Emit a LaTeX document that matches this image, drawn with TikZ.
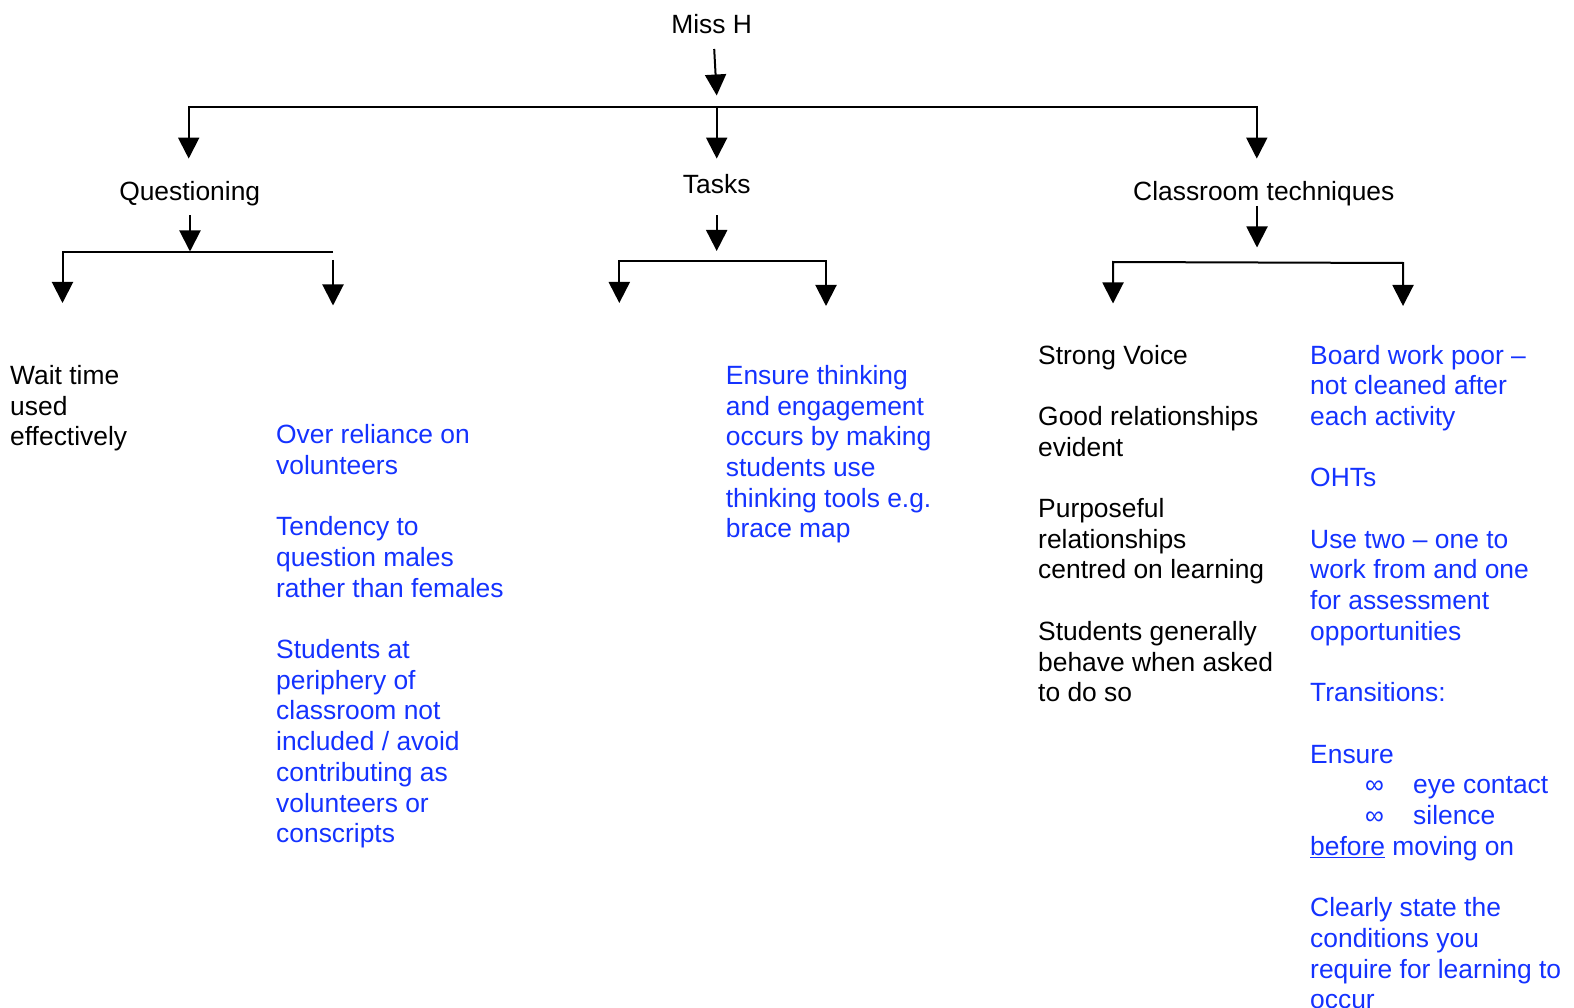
\documentclass[tikz,border=0pt]{standalone}
\usepackage{fontspec}
\setmainfont{Liberation Sans}
\usetikzlibrary{arrows.meta}
\definecolor{tblue}{RGB}{20,50,255}
\newcommand{\txtcol}[1]{\begin{tabular}[t]{@{}l@{}}#1\end{tabular}}
\begin{document}
\begin{tikzpicture}[x=1pt,y=-1pt,
  lbl/.style={inner sep=0pt, font=\fontsize{26.4}{30.7}\selectfont},
  txt/.style={lbl, anchor=base west},
  blu/.style={txt, text=tblue},
  ln/.style={line width=2pt},
  arr/.style={ln, -{Triangle[width=21pt,length=21pt]}},
  both/.style={ln, {Triangle[width=21pt,length=21pt]}-{Triangle[width=21pt,length=21pt]}}]
\useasboundingbox (0,0) rectangle (1574,1008);

% headings
\node[lbl, anchor=base] (missh) at (711.7,34) {Miss H};
\node[lbl, anchor=base] (quest) at (189.7,200.5) {Questioning};
\node[lbl, anchor=base] (tasks) at (716.7,193.5) {Tasks};
\node[lbl, anchor=base] (classt) at (1263.8,200.5) {Classroom techniques};

% top level connectors
\coordinate (m0) at (714.2,49);
\coordinate (m1) at (716.7,95.5);
\draw[arr] (m0) -- (m1);
\coordinate (qtip) at (188.7,158.6);
\coordinate (ctip) at (1256.8,158.6);
\coordinate (ttop) at (716.7,107.4);
\coordinate (ttip) at (716.7,158.6);
\draw[both] (qtip) -- (188.7,107.4) -- (1256.8,107.4) -- (ctip);
\draw[arr] (ttop) -- (ttip);

% Questioning subtree
\coordinate (q0) at (190,215.5);
\coordinate (q1) at (190,251.5);
\draw[arr] (q0) -- (q1);
\coordinate (qa) at (62.5,303);
\draw[arr] (333,252) -- (62.5,252) -- (qa);
\coordinate (qb0) at (333,260);
\coordinate (qb) at (333,305.5);
\draw[arr] (qb0) -- (qb);

% Tasks subtree
\coordinate (t0) at (716.7,215.5);
\coordinate (t1) at (716.7,251);
\draw[arr] (t0) -- (t1);
\coordinate (ta) at (619.3,303);
\coordinate (tb) at (826,306);
\draw[both] (ta) -- (619.3,261) -- (826,261) -- (tb);

% Classroom subtree
\coordinate (c0) at (1257,206);
\coordinate (c1) at (1257,247.5);
\draw[arr] (c0) -- (c1);
\coordinate (ca) at (1113,303.5);
\coordinate (cb) at (1403,306);
\draw[both] (ca) -- (1113,262) -- (1403,263) -- (cb);

% text blocks
\node[txt] (wait) at (10,384.4) {\txtcol{Wait time\\used\\effectively}};

\node[blu] (qtext) at (276,443.6) {\txtcol{Over reliance on\\volunteers\\ \\
Tendency to\\question males\\rather than females\\ \\
Students at\\periphery of\\classroom not\\included / avoid\\contributing as\\volunteers or\\conscripts}};

\node[blu] (ttext) at (725.7,384.4) {\txtcol{Ensure thinking\\and engagement\\occurs by making\\students use\\thinking tools e.g.\\brace map}};

\node[txt] (cltext) at (1038,364) {\txtcol{Strong Voice\\ \\
Good relationships\\evident\\ \\
Purposeful\\relationships\\centred on learning\\ \\
Students generally\\behave when asked\\to do so}};

\node[blu] (crtext) at (1310,364) {\txtcol{Board work poor –\\not cleaned after\\each activity\\ \\
OHTs\\ \\
Use two – one to\\work from and one\\for assessment\\opportunities\\ \\
Transitions:\\ \\
Ensure\\
\hspace*{55pt}\makebox[48pt][l]{∞}eye contact\\
\hspace*{55pt}\makebox[48pt][l]{∞}silence\\
\underline{before} moving on\\ \\
Clearly state the\\conditions you\\require for learning to\\occur}};
\end{tikzpicture}
\end{document}
